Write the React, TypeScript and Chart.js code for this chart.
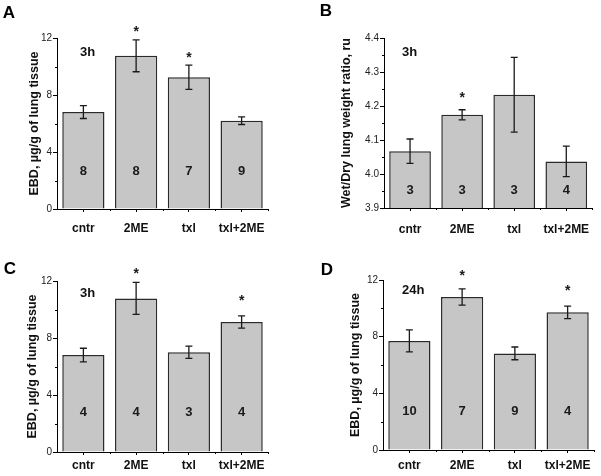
import React, { useEffect, useRef } from "react";
import { Chart, registerables } from "chart.js";

Chart.register(...registerables);

const FONT = "'Liberation Sans', Arial, Helvetica, sans-serif";

const categories = ["cntr", "2ME", "txl", "txl+2ME"];

// Panel A: EBD at 3h
const aValues = [6.8, 10.75, 9.25, 6.2];
const aErrors = [0.45, 1.12, 0.85, 0.27];
const aCounts = ["8", "8", "7", "9"];
const aStars = [null, 12.7, 10.88, null];

// Panel B: Wet/Dry ratio at 3h
const bValues = [4.067, 4.174, 4.233, 4.037];
const bErrors = [0.036, 0.015, 0.11, 0.045];
const bCounts = ["3", "3", "3", "4"];
const bStars = [null, 4.234, null, null];

// Panel C: EBD at 3h
const cValues = [6.8, 10.78, 7.0, 9.12];
const cErrors = [0.48, 1.12, 0.43, 0.43];
const cCounts = ["4", "4", "3", "4"];
const cStars = [null, 12.75, null, 10.9];

// Panel D: EBD at 24h
const dValues = [7.7, 10.8, 6.82, 9.72];
const dErrors = [0.78, 0.58, 0.45, 0.44];
const dCounts = ["10", "7", "9", "4"];
const dStars = [null, 12.57, null, 11.53];

const ebdMajorTicks = [0, 4, 8, 12];
const ebdMinorTicks = [2, 6, 10];
const ratioMajorTicks = [3.9, 4.0, 4.1, 4.2, 4.3, 4.4];
const ratioMinorTicks = [3.95, 4.05, 4.15, 4.25, 4.35];

const ebdTitle = "EBD, µg/g of lung tissue";
const ratioTitle = "Wet/Dry lung weight ratio, ru";

type Panel = {
  letter: string;
  time: string;
  values: number[];
  errors: number[];
  counts: string[];
  stars: (number | null)[];
  countY: number;
  min: number;
  max: number;
  major: number[];
  minor: number[];
  decimals: number;
  yTitle: string;
  // layout (canvas px)
  left: number;
  top: number;
  w: number;
  h: number;
  area: { l: number; r: number; t: number; b: number };
  titleX: number;
  xPad: number;
  letterPos: [number, number];
  timePos: [number, number];
};

const panels: Panel[] = [
  {
    letter: "A", time: "3h", values: aValues, errors: aErrors, counts: aCounts, stars: aStars,
    countY: 2.67, min: 0, max: 12, major: ebdMajorTicks, minor: ebdMinorTicks, decimals: 0, yTitle: ebdTitle,
    left: 0, top: 0, w: 300, h: 236, area: { l: 57, r: 268, t: 38, b: 209 }, titleX: 35, xPad: 9,
    letterPos: [9, 13], timePos: [31, 14],
  },
  {
    letter: "B", time: "3h", values: bValues, errors: bErrors, counts: bCounts, stars: bStars,
    countY: 3.952, min: 3.9, max: 4.4, major: ratioMajorTicks, minor: ratioMinorTicks, decimals: 1, yTitle: ratioTitle,
    left: 300, top: 0, w: 301, h: 236, area: { l: 84, r: 294, t: 38, b: 208 }, titleX: 47, xPad: 11,
    letterPos: [26, 11], timePos: [26, 14],
  },
  {
    letter: "C", time: "3h", values: cValues, errors: cErrors, counts: cCounts, stars: cStars,
    countY: 2.76, min: 0, max: 12, major: ebdMajorTicks, minor: ebdMinorTicks, decimals: 0, yTitle: ebdTitle,
    left: 0, top: 236, w: 300, h: 240, area: { l: 57, r: 268, t: 45, b: 216 }, titleX: 33, xPad: 3,
    letterPos: [10, 33], timePos: [31, 12],
  },
  {
    letter: "D", time: "24h", values: dValues, errors: dErrors, counts: dCounts, stars: dStars,
    countY: 2.7, min: 0, max: 12, major: ebdMajorTicks, minor: ebdMinorTicks, decimals: 0, yTitle: ebdTitle,
    left: 300, top: 236, w: 301, h: 240, area: { l: 83, r: 294, t: 44, b: 214 }, titleX: 56, xPad: 5,
    letterPos: [27, 34], timePos: [27, 10],
  },
];

function makeAnnotations(p: Panel) {
  return {
    id: "annotations" + p.letter,
    afterDatasetsDraw(chart: any) {
      const ctx: CanvasRenderingContext2D = chart.ctx;
      const xs = chart.scales.x;
      const ys = chart.scales.y;
      const meta = chart.getDatasetMeta(0);
      const ca = chart.chartArea;
      ctx.save();
      // error bars
      ctx.strokeStyle = "#1a1a1a";
      ctx.lineWidth = 1.3;
      meta.data.forEach((bar: any, i: number) => {
        const cx = bar.x;
        const yt = ys.getPixelForValue(p.values[i] + p.errors[i]);
        const yb = ys.getPixelForValue(p.values[i] - p.errors[i]);
        ctx.beginPath();
        ctx.moveTo(cx, yt);
        ctx.lineTo(cx, yb);
        ctx.moveTo(cx - 3.5, yt);
        ctx.lineTo(cx + 3.5, yt);
        ctx.moveTo(cx - 3.5, yb);
        ctx.lineTo(cx + 3.5, yb);
        ctx.stroke();
      });
      // counts in bars
      ctx.fillStyle = "#1a1a1a";
      ctx.font = `bold 13px ${FONT}`;
      ctx.textAlign = "center";
      ctx.textBaseline = "middle";
      meta.data.forEach((bar: any, i: number) => {
        ctx.fillText(p.counts[i], bar.x, ys.getPixelForValue(p.countY));
      });
      // significance stars
      ctx.font = `bold 14px ${FONT}`;
      ctx.textBaseline = "alphabetic";
      meta.data.forEach((bar: any, i: number) => {
        const s = p.stars[i];
        if (s !== null && s !== undefined) {
          ctx.fillText("*", bar.x, ys.getPixelForValue(s) + 8);
        }
      });
      // minor ticks on y axis
      ctx.strokeStyle = "#000";
      ctx.lineWidth = 1;
      ctx.beginPath();
      p.minor.forEach((v) => {
        const py = Math.round(ys.getPixelForValue(v)) + 0.5;
        ctx.moveTo(ca.left - 2, py);
        ctx.lineTo(ca.left, py);
      });
      // minor ticks on x axis at category boundaries
      const n = meta.data.length;
      const step = (ca.right - ca.left) / n;
      for (let i = 1; i <= n; i++) {
        const px = Math.round(ca.left + step * i) + 0.5;
        ctx.moveTo(px, ca.bottom);
        ctx.lineTo(px, ca.bottom + 2);
      }
      ctx.stroke();
      // time label
      ctx.fillStyle = "#111";
      ctx.font = `bold 13px ${FONT}`;
      ctx.textAlign = "left";
      ctx.textBaseline = "middle";
      ctx.fillText(p.time, ca.left + p.timePos[0] - 8, ca.top + p.timePos[1]);
      // panel letter
      ctx.fillStyle = "#000";
      ctx.font = `bold 17px ${FONT}`;
      ctx.textAlign = "center";
      ctx.fillText(p.letter, p.letterPos[0], p.letterPos[1]);
      ctx.restore();
    },
  };
}

function PanelChart({ p }: { p: Panel }) {
  const ref = useRef<HTMLCanvasElement | null>(null);
  useEffect(() => {
    if (!ref.current) return;
    const chart = new Chart(ref.current, {
      type: "bar",
      data: {
        labels: categories,
        datasets: [
          {
            data: p.values,
            backgroundColor: "#c6c6c6",
            borderColor: "#2a2a2a",
            borderWidth: 1.5,
            borderSkipped: "start",
            categoryPercentage: 0.8,
            barPercentage: 1,
          },
        ],
      },
      options: {
        responsive: true,
        maintainAspectRatio: false,
        animation: false,
        events: [],
        layout: {
          padding: { left: 0, top: p.area.t, right: p.w - p.area.r, bottom: 0 },
        },
        plugins: {
          legend: { display: false },
          tooltip: { enabled: false },
          title: { display: false },
        },
        scales: {
          x: {
            type: "category",
            offset: true,
            grid: {
              display: true,
              drawOnChartArea: false,
              drawTicks: true,
              offset: false,
              tickLength: 3,
              tickColor: "#000",
            },
            border: { display: true, color: "#000", width: 1 },
            ticks: {
              color: "#111",
              padding: p.xPad,
              maxRotation: 0,
              autoSkip: false,
              font: { family: FONT, size: 12, weight: "bold" },
            },
            afterFit: (scale: any) => {
              scale.height = p.h - p.area.b;
            },
          },
          y: {
            type: "linear",
            min: p.min,
            max: p.max,
            afterBuildTicks: (scale: any) => {
              scale.ticks = p.major.map((v) => ({ value: v }));
            },
            grid: {
              display: true,
              drawOnChartArea: false,
              drawTicks: true,
              tickLength: 4,
              tickColor: "#000",
            },
            border: { display: true, color: "#000", width: 1 },
            ticks: {
              color: "#222",
              padding: 1,
              font: { family: FONT, size: 10 },
              callback: (v: any) => Number(v).toFixed(p.decimals),
            },
            title: {
              display: true,
              text: p.yTitle,
              color: "#111",
              font: { family: FONT, size: 12.5, weight: "bold" },
              padding: { top: p.titleX - 7.5, bottom: 0 },
            },
            afterFit: (scale: any) => {
              scale.width = p.area.l;
            },
          },
        },
      },
      plugins: [makeAnnotations(p)],
    } as any);
    return () => chart.destroy();
  }, [p]);
  return (
    <div
      style={{
        position: "absolute",
        left: p.left,
        top: p.top,
        width: p.w,
        height: p.h,
      }}
    >
      <canvas ref={ref} />
    </div>
  );
}

export default function App() {
  return (
    <div
      style={{
        position: "absolute",
        left: 0,
        top: 0,
        width: 601,
        height: 476,
        background: "#fff",
        overflow: "hidden",
      }}
    >
      {panels.map((p) => (
        <PanelChart key={p.letter} p={p} />
      ))}
    </div>
  );
}
